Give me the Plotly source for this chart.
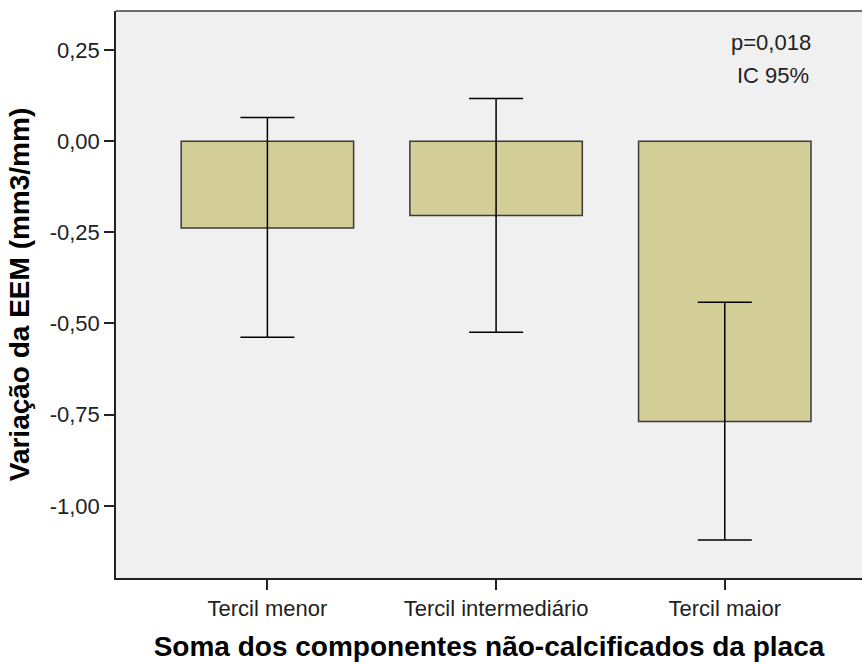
import plotly.graph_objects as go

# Mean change in EEM per tercile with 95% CI limits
categories = ["Tercil menor", "Tercil intermediário", "Tercil maior"]
means = [-0.238, -0.204, -0.769]
ci_upper = [0.065, 0.117, -0.442]
ci_lower = [-0.538, -0.524, -1.094]

y_tick_vals = [0.25, 0.0, -0.25, -0.5, -0.75, -1.0]
y_tick_text = ["0,25", "0,00", "-0,25", "-0,50", "-0,75", "-1,00"]

err_plus = [u - m for u, m in zip(ci_upper, means)]
err_minus = [m - l for m, l in zip(means, ci_lower)]

FONT = "Liberation Sans, Arial, sans-serif"

fig = go.Figure(
    go.Bar(
        x=list(range(len(categories))),
        y=means,
        width=0.754,
        marker=dict(color="#d3ce98", line=dict(color="#3a3a3a", width=1.5)),
        error_y=dict(
            type="data",
            symmetric=False,
            array=err_plus,
            arrayminus=err_minus,
            color="#000000",
            thickness=1.5,
            width=27,
        ),
        hoverinfo="skip",
    )
)

PLOT_L, PLOT_T, PLOT_B, PLOT_W = 116, 11, 578, 746
PLOT_H = PLOT_B - PLOT_T


def paper_xy(px, py):
    return (px - PLOT_L) / PLOT_W, (PLOT_B - py) / PLOT_H


ax1, ay1 = paper_xy(771, 42)
ax2, ay2 = paper_xy(773, 75)

fig.update_layout(
    width=862,
    height=664,
    margin=dict(l=PLOT_L, r=0, t=PLOT_T, b=664 - PLOT_B),
    paper_bgcolor="#ffffff",
    plot_bgcolor="#f0f0f0",
    showlegend=False,
    font=dict(family=FONT, color="#222222"),
    xaxis=dict(
        range=[-0.662, 2.6],
        tickvals=list(range(len(categories))),
        ticktext=categories,
        ticks="outside",
        ticklen=10,
        tickwidth=1.5,
        tickcolor="#222222",
        tickfont=dict(size=22, family=FONT, color="#222222"),
        showline=True,
        linecolor="#222222",
        linewidth=1.5,
        showgrid=False,
        zeroline=False,
        title=dict(
            text="<b>Soma dos componentes não-calcificados da placa</b>",
            font=dict(size=28, family=FONT, color="#000000"),
            standoff=16,
        ),
    ),
    yaxis=dict(
        range=[-1.198, 0.357],
        tickvals=y_tick_vals,
        ticktext=y_tick_text,
        ticks="outside",
        ticklen=10,
        tickwidth=1.5,
        tickcolor="#222222",
        tickfont=dict(size=22, family=FONT, color="#222222"),
        showline=True,
        linecolor="#222222",
        linewidth=1.5,
        showgrid=False,
        zeroline=False,
        title=dict(
            text="<b>Variação da EEM (mm3/mm)</b>",
            font=dict(size=28, family=FONT, color="#000000"),
            standoff=12,
        ),
    ),
    shapes=[
        dict(
            type="line", xref="paper", yref="paper",
            x0=0, x1=1, y0=1, y1=1,
            line=dict(color="#6e6e6e", width=2),
        )
    ],
    annotations=[
        dict(
            text="p=0,018", xref="paper", yref="paper",
            x=ax1, y=ay1, xanchor="center", yanchor="middle",
            showarrow=False,
            font=dict(size=22, family=FONT, color="#222222"),
        ),
        dict(
            text="IC 95%", xref="paper", yref="paper",
            x=ax2, y=ay2, xanchor="center", yanchor="middle",
            showarrow=False,
            font=dict(size=22, family=FONT, color="#222222"),
        ),
    ],
)

fig.write_html("out.html")
